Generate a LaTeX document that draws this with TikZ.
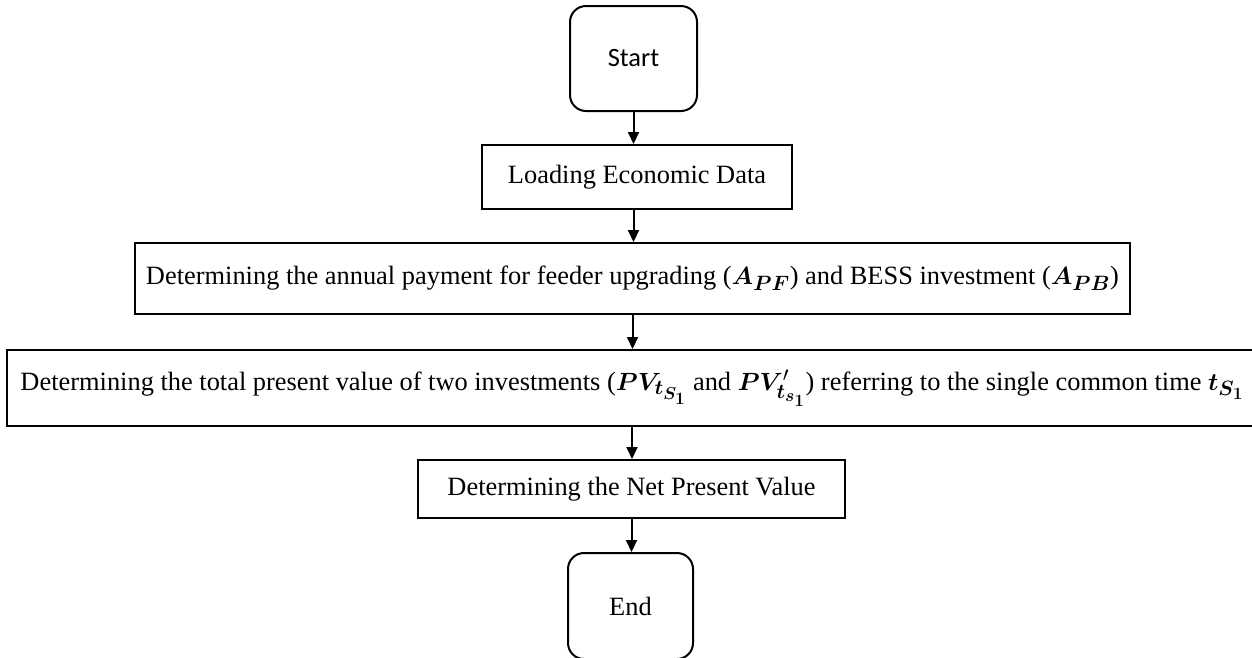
\documentclass[tikz,border=0pt]{standalone}
\usepackage{amsmath}
\usepackage{bm}
\usepackage{fontspec}
\setmainfont{Liberation Serif}
\newfontfamily\calibrifont{Carlito}
\DeclareMathSizes{26.4}{26.4}{20}{16}
\usetikzlibrary{arrows.meta}
\begin{document}
\begin{tikzpicture}[x=1pt,y=-1pt,
  every node/.style={font=\fontsize{26.4}{31}\selectfont},
  box/.style={draw, line width=2pt, inner sep=0pt, align=center},
  term/.style={box, rounded corners=16pt, font=\calibrifont\fontsize{26.4}{31}\selectfont},
  flow/.style={line width=2pt, -{Triangle[length=12pt,width=11pt]}}]
\useasboundingbox (0,0) rectangle (1252,657);
\begin{scope}
\clip (0,0) rectangle (1252,657);
\node[term, minimum width=127pt, minimum height=105pt] (start) at (633.5,58.5) {Start};
\node[box, minimum width=310pt, minimum height=64pt] (load) at (637,177) {Loading Economic Data};
\node[box, minimum width=995pt, minimum height=71pt] (pay) at (632.5,278.5)
  {Determining the annual payment for feeder upgrading ($\bm{A}_{\bm{PF}}$) and BESS investment ($\bm{A}_{\bm{PB}}$)};
\node[box, minimum width=1250pt, minimum height=76pt] (pv) at (632,388)
  {Determining the total present value of two investments ($\bm{PV}_{\bm{t}_{\bm{S}_{\bm{1}}}}$ and $\bm{PV}'_{\bm{t}_{\bm{s}_{\bm{1}}}}$) referring to the single common time $\bm{t}_{\bm{S}_{\bm{1}}}$};
\node[box, minimum width=427pt, minimum height=58pt] (npv) at (631.5,489) {Determining the Net Present Value};
\node[term, font=\fontsize{26.4}{31}\selectfont, minimum width=125pt, minimum height=106pt] (end) at (630.5,606) {End};
\draw[flow] (start.south) -- (start.south |- load.north);
\draw[flow] (load.south -| start.south) -- (start.south |- pay.north);
\draw[flow] (pay.south) -- (pay.south |- pv.north);
\draw[flow] (pv.south) -- (pv.south |- npv.north);
\draw[flow] (npv.south) -- (npv.south |- end.north);
\end{scope}
\end{tikzpicture}
\end{document}
